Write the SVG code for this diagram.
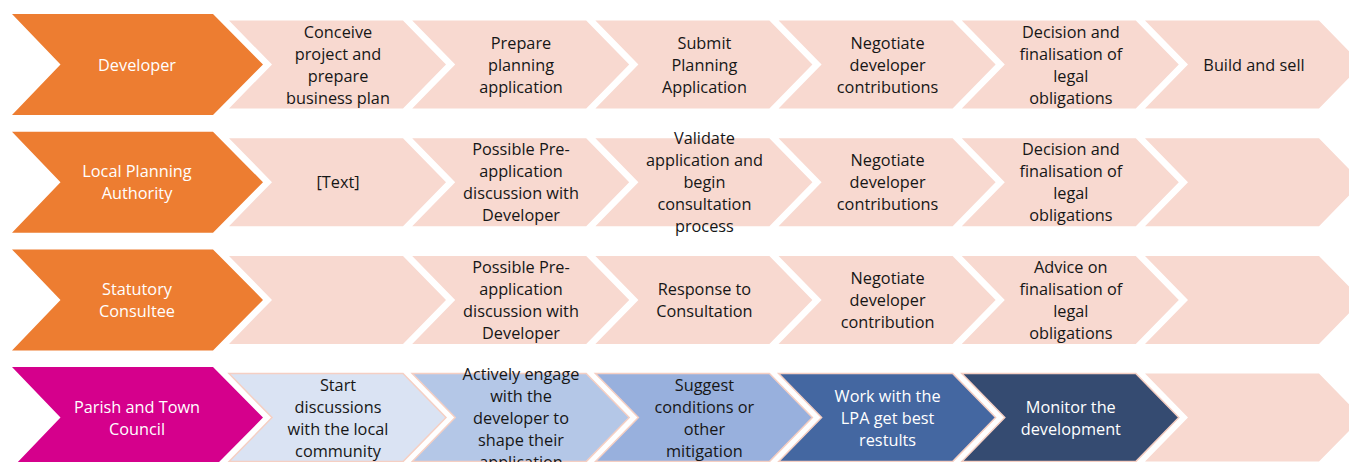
<svg xmlns="http://www.w3.org/2000/svg" xmlns:xlink="http://www.w3.org/1999/xlink" width="1349" height="462" viewBox="0 0 1349 462">
  <defs>
    <!-- role chevron, origin at left edge / vertical centre -->
    <path id="roleShape" d="M0,-50.5 H201 L251,0 L201,50.5 H0 L48.5,0 Z"/>
    <!-- step chevron, origin at left edge / vertical centre -->
    <path id="stepShape" d="M0,-44 H174 L217,0 L174,44 H0 L43,0 Z"/>
    <style>
      .role { fill: #ED7D31; }
      .parish { fill: #D5008C; }
      .step { fill: #F8D9D0; }
      .s1 { fill: #DAE3F3; stroke: #F5CFC3; stroke-width: 1.5; }
      .s2 { fill: #B4C7E7; stroke: #F5CFC3; stroke-width: 1.5; }
      .s3 { fill: #98B0DD; stroke: #F5CFC3; stroke-width: 1.5; }
      .s4 { fill: #4467A1; stroke: #F5CFC3; stroke-width: 1.5; }
      .s5 { fill: #354B71; stroke: #F5CFC3; stroke-width: 1.5; }
      text { font-family: "Open Sans", "Liberation Sans", sans-serif; font-size: 16.3px; text-anchor: middle; }
      .dark { fill: #161616; }
      .light { fill: #FFFFFF; }
    </style>
  </defs>

  <rect width="1349" height="462" fill="#FFFFFF"/>

  <!-- Row 1: Developer -->
  <g id="developer">
    <use href="#roleShape" x="12" y="64.5" class="role"/>
    <text class="light" x="137" y="70.5">Developer</text>
  </g>
  <g id="dev-step1">
    <use href="#stepShape" x="229" y="64.5" class="step"/>
    <text class="dark" x="338" y="37.5"><tspan x="338">Conceive</tspan><tspan x="338" dy="22">project and</tspan><tspan x="338" dy="22">prepare</tspan><tspan x="338" dy="22">business plan</tspan></text>
  </g>
  <g id="dev-step2">
    <use href="#stepShape" x="412.2" y="64.5" class="step"/>
    <text class="dark" x="521" y="48.5"><tspan x="521">Prepare</tspan><tspan x="521" dy="22">planning</tspan><tspan x="521" dy="22">application</tspan></text>
  </g>
  <g id="dev-step3">
    <use href="#stepShape" x="595.4" y="64.5" class="step"/>
    <text class="dark" x="704.4" y="48.5"><tspan x="704.4">Submit</tspan><tspan x="704.4" dy="22">Planning</tspan><tspan x="704.4" dy="22">Application</tspan></text>
  </g>
  <g id="dev-step4">
    <use href="#stepShape" x="778.6" y="64.5" class="step"/>
    <text class="dark" x="887.6" y="48.5"><tspan x="887.6">Negotiate</tspan><tspan x="887.6" dy="22">developer</tspan><tspan x="887.6" dy="22">contributions</tspan></text>
  </g>
  <g id="dev-step5">
    <use href="#stepShape" x="961.8" y="64.5" class="step"/>
    <text class="dark" x="1070.8" y="37.5"><tspan x="1070.8">Decision and</tspan><tspan x="1070.8" dy="22">finalisation of</tspan><tspan x="1070.8" dy="22">legal</tspan><tspan x="1070.8" dy="22">obligations</tspan></text>
  </g>
  <g id="dev-step6">
    <use href="#stepShape" x="1145" y="64.5" class="step"/>
    <text class="dark" x="1254" y="70.5">Build and sell</text>
  </g>

  <!-- Row 2: Local Planning Authority -->
  <g id="lpa">
    <use href="#roleShape" x="12" y="182.2" class="role"/>
    <text class="light" x="137" y="177.2"><tspan x="137">Local Planning</tspan><tspan x="137" dy="22">Authority</tspan></text>
  </g>
  <g id="lpa-step1">
    <use href="#stepShape" x="229" y="182.2" class="step"/>
    <text class="dark" x="338" y="188.2">[Text]</text>
  </g>
  <g id="lpa-step2">
    <use href="#stepShape" x="412.2" y="182.2" class="step"/>
    <text class="dark" x="521" y="155.2"><tspan x="521">Possible Pre-</tspan><tspan x="521" dy="22">application</tspan><tspan x="521" dy="22">discussion with</tspan><tspan x="521" dy="22">Developer</tspan></text>
  </g>
  <g id="lpa-step3">
    <use href="#stepShape" x="595.4" y="182.2" class="step"/>
    <text class="dark" x="704.4" y="144.2"><tspan x="704.4">Validate</tspan><tspan x="704.4" dy="22">application and</tspan><tspan x="704.4" dy="22">begin</tspan><tspan x="704.4" dy="22">consultation</tspan><tspan x="704.4" dy="22">process</tspan></text>
  </g>
  <g id="lpa-step4">
    <use href="#stepShape" x="778.6" y="182.2" class="step"/>
    <text class="dark" x="887.6" y="166.2"><tspan x="887.6">Negotiate</tspan><tspan x="887.6" dy="22">developer</tspan><tspan x="887.6" dy="22">contributions</tspan></text>
  </g>
  <g id="lpa-step5">
    <use href="#stepShape" x="961.8" y="182.2" class="step"/>
    <text class="dark" x="1070.8" y="155.2"><tspan x="1070.8">Decision and</tspan><tspan x="1070.8" dy="22">finalisation of</tspan><tspan x="1070.8" dy="22">legal</tspan><tspan x="1070.8" dy="22">obligations</tspan></text>
  </g>
  <g id="lpa-step6">
    <use href="#stepShape" x="1145" y="182.2" class="step"/>
  </g>

  <!-- Row 3: Statutory Consultee -->
  <g id="consultee">
    <use href="#roleShape" x="12" y="299.9" class="role"/>
    <text class="light" x="137" y="294.9"><tspan x="137">Statutory</tspan><tspan x="137" dy="22">Consultee</tspan></text>
  </g>
  <g id="sc-step1">
    <use href="#stepShape" x="229" y="299.9" class="step"/>
  </g>
  <g id="sc-step2">
    <use href="#stepShape" x="412.2" y="299.9" class="step"/>
    <text class="dark" x="521" y="272.9"><tspan x="521">Possible Pre-</tspan><tspan x="521" dy="22">application</tspan><tspan x="521" dy="22">discussion with</tspan><tspan x="521" dy="22">Developer</tspan></text>
  </g>
  <g id="sc-step3">
    <use href="#stepShape" x="595.4" y="299.9" class="step"/>
    <text class="dark" x="704.4" y="294.9"><tspan x="704.4">Response to</tspan><tspan x="704.4" dy="22">Consultation</tspan></text>
  </g>
  <g id="sc-step4">
    <use href="#stepShape" x="778.6" y="299.9" class="step"/>
    <text class="dark" x="887.6" y="283.9"><tspan x="887.6">Negotiate</tspan><tspan x="887.6" dy="22">developer</tspan><tspan x="887.6" dy="22">contribution</tspan></text>
  </g>
  <g id="sc-step5">
    <use href="#stepShape" x="961.8" y="299.9" class="step"/>
    <text class="dark" x="1070.8" y="272.9"><tspan x="1070.8">Advice on</tspan><tspan x="1070.8" dy="22">finalisation of</tspan><tspan x="1070.8" dy="22">legal</tspan><tspan x="1070.8" dy="22">obligations</tspan></text>
  </g>
  <g id="sc-step6">
    <use href="#stepShape" x="1145" y="299.9" class="step"/>
  </g>

  <!-- Row 4: Parish and Town Council -->
  <g id="parish">
    <use href="#roleShape" x="12" y="417.6" class="parish"/>
    <text class="light" x="137" y="412.6"><tspan x="137">Parish and Town</tspan><tspan x="137" dy="22">Council</tspan></text>
  </g>
  <g id="ptc-step1">
    <use href="#stepShape" x="229" y="417.6" class="s1"/>
    <text class="dark" x="338" y="390.6"><tspan x="338">Start</tspan><tspan x="338" dy="22">discussions</tspan><tspan x="338" dy="22">with the local</tspan><tspan x="338" dy="22">community</tspan></text>
  </g>
  <g id="ptc-step2">
    <use href="#stepShape" x="412.2" y="417.6" class="s2"/>
    <text class="dark" x="521" y="379.6"><tspan x="521">Actively engage</tspan><tspan x="521" dy="22">with the</tspan><tspan x="521" dy="22">developer to</tspan><tspan x="521" dy="22">shape their</tspan><tspan x="521" dy="22">application</tspan></text>
  </g>
  <g id="ptc-step3">
    <use href="#stepShape" x="595.4" y="417.6" class="s3"/>
    <text class="dark" x="704.4" y="390.6"><tspan x="704.4">Suggest</tspan><tspan x="704.4" dy="22">conditions or</tspan><tspan x="704.4" dy="22">other</tspan><tspan x="704.4" dy="22">mitigation</tspan></text>
  </g>
  <g id="ptc-step4">
    <use href="#stepShape" x="778.6" y="417.6" class="s4"/>
    <text class="light" x="887.6" y="401.6"><tspan x="887.6">Work with the</tspan><tspan x="887.6" dy="22">LPA get best</tspan><tspan x="887.6" dy="22">restults</tspan></text>
  </g>
  <g id="ptc-step5">
    <use href="#stepShape" x="961.8" y="417.6" class="s5"/>
    <text class="light" x="1070.8" y="412.6"><tspan x="1070.8">Monitor the</tspan><tspan x="1070.8" dy="22">development</tspan></text>
  </g>
  <g id="ptc-step6">
    <use href="#stepShape" x="1145" y="417.6" class="step"/>
  </g>

  <!-- the process flows through adjoining chevrons; no separate connector lines -->
  <g id="connectors"/>
</svg>
